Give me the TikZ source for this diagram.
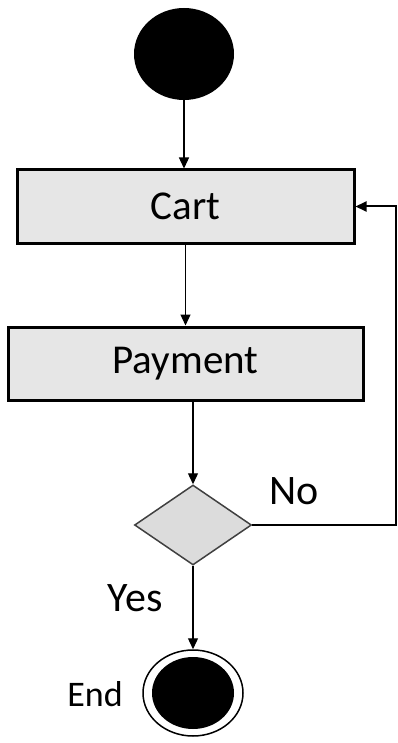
\documentclass[tikz,border=0pt]{standalone}
\usepackage{fontspec}
\setmainfont{Carlito}
\usetikzlibrary{shapes.geometric,arrows.meta,calc}
\definecolor{boxgray}{HTML}{E6E6E6}
\definecolor{diagray}{HTML}{DCDCDC}
\definecolor{diaedge}{HTML}{404040}
\begin{document}
\begin{tikzpicture}[x=1pt,y=-1pt,
  actbox/.style={draw=black,line width=3pt,fill=boxgray,minimum height=73pt,inner sep=0pt,font=\fontsize{41}{46}\selectfont},
  arr/.style={line width=1.3pt,-{Triangle[length=11pt,width=10pt]}},
  lbl/.style={inner sep=0pt,font=\fontsize{42}{48}\selectfont},
  decision/.style={diamond,draw=diaedge,line width=1.5pt,fill=diagray,minimum width=117pt,minimum height=80pt,inner sep=0pt}]
\useasboundingbox (0,0) rectangle (398,743);
\node[ellipse,fill=black,minimum width=100pt,minimum height=92pt,inner sep=0pt] (start) at (184,54) {};
\node[actbox,minimum width=337pt] (cart) at (185.5,206.5) {Cart};
\node[actbox,minimum width=355pt] (pay) at (185.5,363.5) {Payment};
\node[decision] (dia) at (193,525) {};
\node[ellipse,draw=black,line width=1.5pt,fill=white,minimum width=100pt,minimum height=86pt,inner sep=0pt] (end) at (193,693) {};
\fill[black] (end.center) ellipse [x radius=41pt,y radius=36pt];
\coordinate (loop) at (396,206.5);
\node[lbl] (no) at (294,491) {No};
\node[lbl] (yes) at (135,598) {Yes};
\node[inner sep=0pt,font=\fontsize{36}{42}\selectfont] (endl) at (95,694) {End};
\draw[arr] (start.south) -- (start.south |- cart.north);
\draw[arr] (cart.south) -- (pay.north);
\draw[arr] (dia.north |- pay.south) -- (dia.north);
\draw[arr] (dia.south) -- (end.north);
\draw[arr,line width=2pt] (dia.east) -| (loop) -- (cart.east);
\end{tikzpicture}
\end{document}
